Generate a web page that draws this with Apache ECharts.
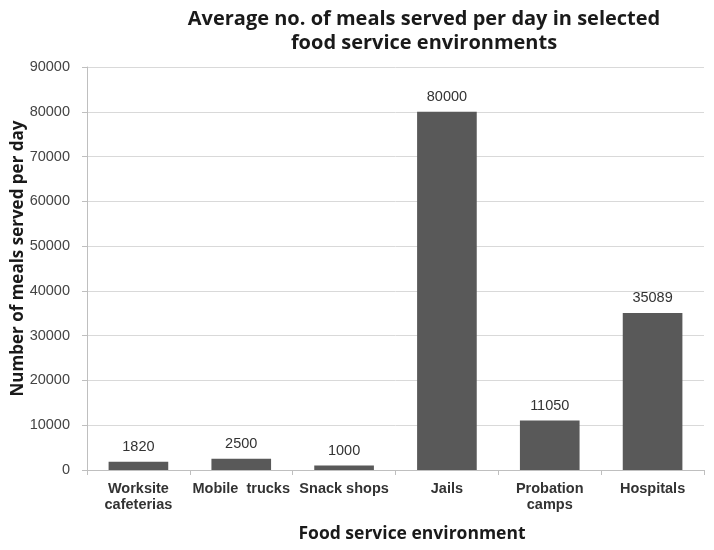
<!DOCTYPE html>
<html><head><meta charset="utf-8">
<script src="https://cdn.jsdelivr.net/npm/echarts@6/dist/echarts.min.js"></script>
<style>html,body{margin:0;padding:0;background:#fff}#c{width:714px;height:550px}</style>
</head><body><div id="c"></div>
<script>
const categories = ['Worksite\ncafeterias', 'Mobile  trucks', 'Snack shops', 'Jails', 'Probation\ncamps', 'Hospitals'];
const meals = [1820, 2500, 1000, 80000, 11050, 35089];
const yTicks = {min: 0, max: 90000, interval: 10000};

const chart = echarts.init(document.getElementById('c'));
chart.setOption({
  animation: false,
  title: {
    text: 'Average no. of meals served per day in selected\nfood service environments',
    left: 419, top: 2, textAlign: 'center',
    textStyle: {fontFamily: 'Open Sans', fontWeight: 'bold', fontSize: 20, color: '#1a1a1a', lineHeight: 24}
  },
  grid: {left: 87, right: 10, top: 67, bottom: 80, containLabel: false, outerBoundsMode: 'none'},
  xAxis: {
    type: 'category', data: categories,
    name: 'Food service environment', nameLocation: 'middle', nameGap: 55,
    nameTextStyle: {fontFamily: 'Open Sans', fontWeight: 'bold', fontSize: 17.5, color: '#1a1a1a', padding: [0, 0, 0, 33]},
    axisLine: {lineStyle: {color: '#bfbfbf'}},
    axisTick: {show: true, alignWithLabel: false, length: 5, lineStyle: {color: '#bfbfbf'}},
    axisLabel: {fontFamily: 'Liberation Sans', fontWeight: 'bold', fontSize: 14.5, color: '#333', margin: 11, lineHeight: 16, interval: 0}
  },
  yAxis: {
    type: 'value', min: yTicks.min, max: yTicks.max, interval: yTicks.interval,
    name: 'Number of meals served per day', nameLocation: 'middle', nameGap: 69, nameMoveOverlap: false,
    nameTextStyle: {fontFamily: 'Open Sans', fontWeight: 'bold', fontSize: 17, color: '#1a1a1a', verticalAlign: 'middle', padding: [0, 0, 0, 20]},
    axisLine: {show: true, lineStyle: {color: '#bfbfbf'}},
    axisTick: {show: true, length: 5, lineStyle: {color: '#bfbfbf'}},
    splitLine: {lineStyle: {color: '#d9d9d9'}},
    axisLabel: {fontFamily: 'Liberation Sans', fontSize: 14.5, color: '#444', margin: 17, formatter: v => String(v)}
  },
  series: [{
    type: 'bar', data: meals, barWidth: '58%',
    itemStyle: {color: '#595959'},
    label: {show: true, position: 'top', fontFamily: 'Liberation Sans', fontSize: 14.5, color: '#333', distance: 7}
  }]
});
</script></body></html>
